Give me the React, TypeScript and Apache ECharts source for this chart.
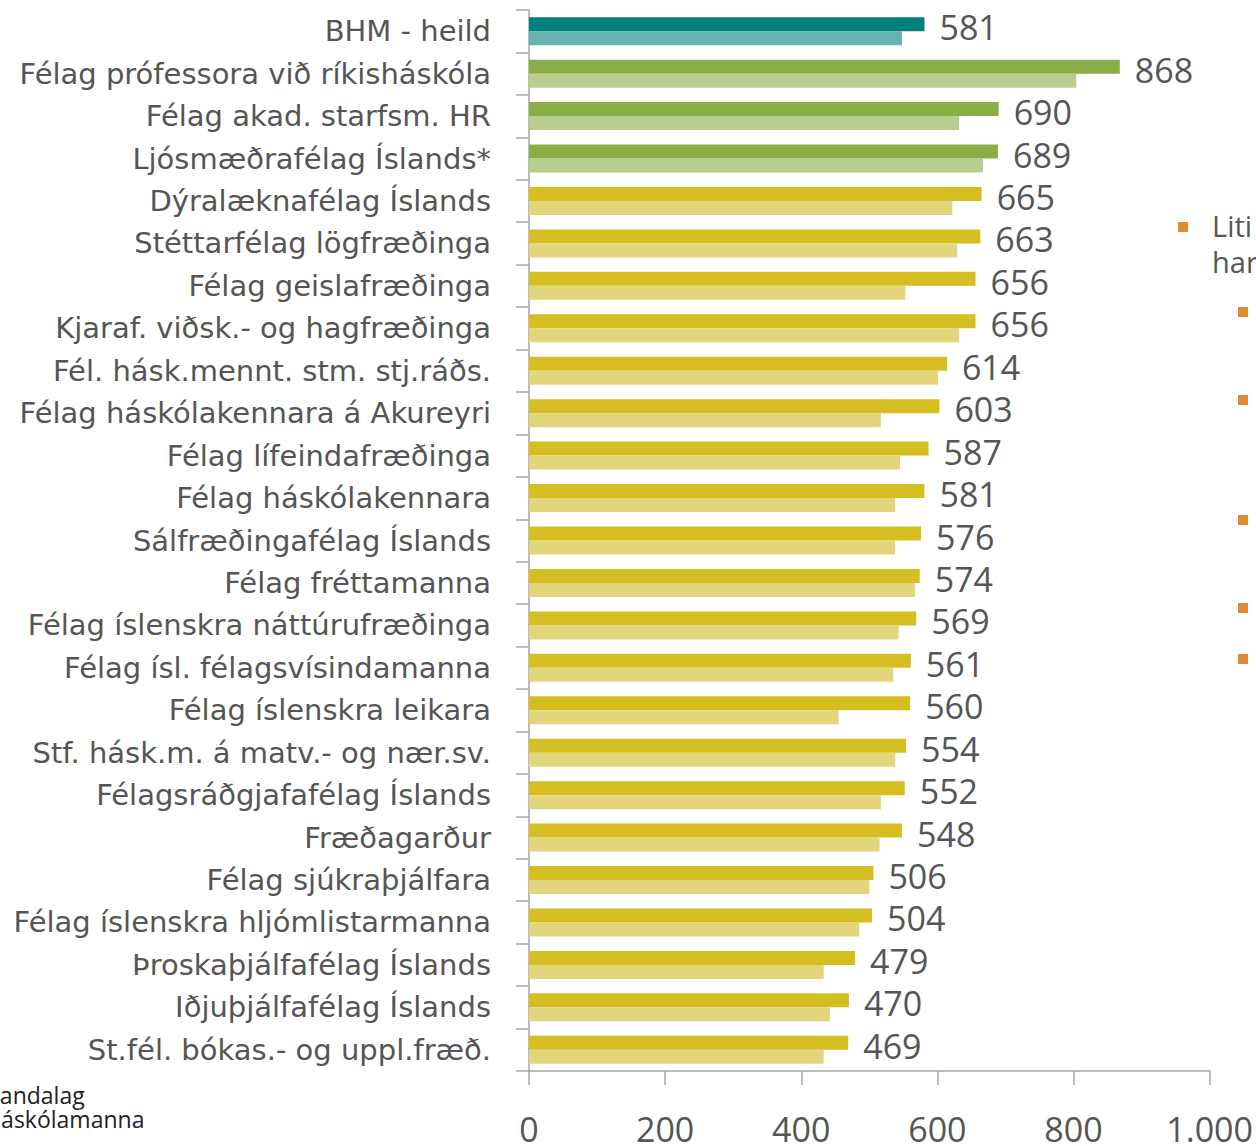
import React, { useEffect, useRef } from "react";
import * as echarts from "echarts";

const categories = [
  "BHM - heild",
  "Félag prófessora við ríkisháskóla",
  "Félag akad. starfsm. HR",
  "Ljósmæðrafélag Íslands*",
  "Dýralæknafélag Íslands",
  "Stéttarfélag lögfræðinga",
  "Félag geislafræðinga",
  "Kjaraf. viðsk.- og hagfræðinga",
  "Fél. hásk.mennt. stm. stj.ráðs.",
  "Félag háskólakennara á Akureyri",
  "Félag lífeindafræðinga",
  "Félag háskólakennara",
  "Sálfræðingafélag Íslands",
  "Félag fréttamanna",
  "Félag íslenskra náttúrufræðinga",
  "Félag ísl. félagsvísindamanna",
  "Félag íslenskra leikara",
  "Stf. hásk.m. á matv.- og nær.sv.",
  "Félagsráðgjafafélag Íslands",
  "Fræðagarður",
  "Félag sjúkraþjálfara",
  "Félag íslenskra hljómlistarmanna",
  "Þroskaþjálfafélag Íslands",
  "Iðjuþjálfafélag Íslands",
  "St.fél. bókas.- og uppl.fræð.",
];

const currentValues = [
  581, 868, 690, 689, 665, 663, 656, 656, 614, 603, 587, 581, 576, 574, 569,
  561, 560, 554, 552, 548, 506, 504, 479, 470, 469,
];

const previousValues = [
  548, 804, 632, 667, 622, 629, 553, 632, 601, 517, 545, 538, 538, 567, 543,
  535, 455, 538, 517, 515, 500, 485, 433, 442, 433,
];

// colour group of each row: 0 = BHM total, 1 = green, 2 = yellow
const rowGroup = [
  0, 1, 1, 1, 2, 2, 2, 2, 2, 2, 2, 2, 2, 2, 2, 2, 2, 2, 2, 2, 2, 2, 2, 2, 2,
];

const xTicks = [0, 200, 400, 600, 800, 1000];

const darkColors = ["#007F7F", "#8BAD45", "#D4BE22"];
const lightColors = ["#66B2B2", "#B9CD8F", "#E3D57B"];

const fmt = (v: number) =>
  String(v).replace(/\B(?=(\d{3})+(?!\d))/g, ".");

export default function App() {
  const ref = useRef<HTMLDivElement>(null);

  useEffect(() => {
    if (!ref.current) return;
    const chart = echarts.init(ref.current, undefined, { renderer: "svg" });
    const orange = "#DE8A2E";
    const textColor = "#555555";
    const axisColor = "#A6A6A6";

    const bullets = [
      { x: 1178, y: 222 },
      { x: 1238, y: 307 },
      { x: 1238, y: 395 },
      { x: 1238, y: 515 },
      { x: 1238, y: 603 },
      { x: 1238, y: 654 },
    ];

    chart.setOption({
      animation: false,
      backgroundColor: "#ffffff",
      grid: { left: 529, top: 10, width: 682, height: 1070, containLabel: false },
      xAxis: {
        type: "value",
        min: xTicks[0],
        max: xTicks[xTicks.length - 1],
        interval: 200,
        splitLine: { show: false },
        axisLine: { show: true, lineStyle: { color: axisColor, width: 1.5 } },
        axisTick: { show: true, length: 14, lineStyle: { color: axisColor, width: 1.5 } },
        axisLabel: {
          fontFamily: "Open Sans",
          fontSize: 34,
          color: textColor,
          margin: 41,
          formatter: (v: number) => fmt(v),
        },
      },
      yAxis: {
        type: "category",
        inverse: true,
        data: categories,
        axisLine: { show: true, lineStyle: { color: axisColor, width: 1.5 } },
        axisTick: { show: true, length: 13, lineStyle: { color: axisColor, width: 1.5 } },
        axisLabel: {
          fontFamily: "DejaVu Sans",
          fontSize: 29,
          color: textColor,
          margin: 38,
        },
      },
      series: [
        {
          type: "bar",
          barWidth: 14,
          barGap: 0,
          data: currentValues.map((v, i) => ({
            value: v,
            itemStyle: { color: darkColors[rowGroup[i]] },
          })),
          label: {
            show: true,
            position: "right",
            distance: 15,
            offset: [0, 3],
            fontFamily: "Open Sans",
            fontSize: 34,
            color: textColor,
          },
        },
        {
          type: "bar",
          barWidth: 14,
          barGap: 0,
          data: previousValues.map((v, i) => ({
            value: v,
            itemStyle: { color: lightColors[rowGroup[i]] },
          })),
        },
      ],
      graphic: [
        {
          type: "text",
          x: -15,
          y: 1106,
          style: {
            text: "Bandalag",
            font: "23px 'Open Sans'",
            fill: "#222222",
            textVerticalAlign: "bottom",
          },
        },
        {
          type: "text",
          x: -13,
          y: 1130,
          style: {
            text: "háskólamanna",
            font: "23px 'Open Sans'",
            fill: "#222222",
            textVerticalAlign: "bottom",
          },
        },
        ...bullets.map((b) => ({
          type: "rect",
          shape: { x: b.x, y: b.y, width: 10, height: 10 },
          style: { fill: orange },
        })),
        {
          type: "text",
          x: 1212,
          y: 211,
          style: { text: "Liti", font: "29px 'Open Sans'", fill: textColor },
        },
        {
          type: "text",
          x: 1212,
          y: 247,
          style: { text: "har", font: "29px 'Open Sans'", fill: textColor },
        },
      ],
    });

    return () => chart.dispose();
  }, []);

  return (
    <div
      ref={ref}
      style={{ position: "absolute", left: 0, top: 0, width: 1256, height: 1146 }}
    />
  );
}
